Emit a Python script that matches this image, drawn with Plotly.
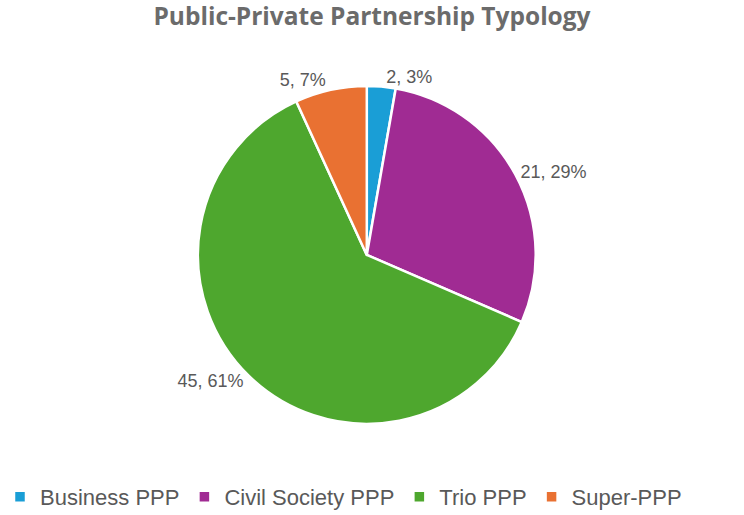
import plotly.graph_objects as go

categories = ["Business PPP", "Civil Society PPP", "Trio PPP", "Super-PPP"]
values = [2, 21, 45, 5]
percent_labels = ["3%", "29%", "61%", "7%"]
colors = ["#1A9ED6", "#A02B93", "#4EA72E", "#E97132"]

text = [f"{v}, {p}" for v, p in zip(values, percent_labels)]

fig = go.Figure(go.Pie(
    labels=categories,
    values=values,
    text=text,
    textinfo="text",
    textposition="outside",
    sort=False,
    direction="clockwise",
    rotation=0,
    marker=dict(colors=colors, line=dict(color="white", width=2.5)),
    textfont=dict(family="Liberation Sans, Arial", size=18, color="#595959"),
    hole=0,
    domain=dict(x=[0.048, 0.938], y=[0.177, 0.833]),
))

fig.update_layout(
    width=744, height=515,
    margin=dict(l=0, r=0, t=0, b=0, autoexpand=False),
    paper_bgcolor="white",
    plot_bgcolor="white",
    title=dict(text="<b>Public-Private Partnership Typology</b>",
               x=0.5, xanchor="center", y=0.969, yanchor="middle",
               font=dict(family="Open Sans, Arial", size=24.5, color="#6b6b6b")),
    legend=dict(orientation="h", x=0.0, xanchor="left", y=0.035, yanchor="middle",
                font=dict(family="Liberation Sans, Arial", size=22, color="#595959"),
                itemwidth=30, tracegroupgap=0),
    showlegend=True,
)

fig.write_html("out.html")
